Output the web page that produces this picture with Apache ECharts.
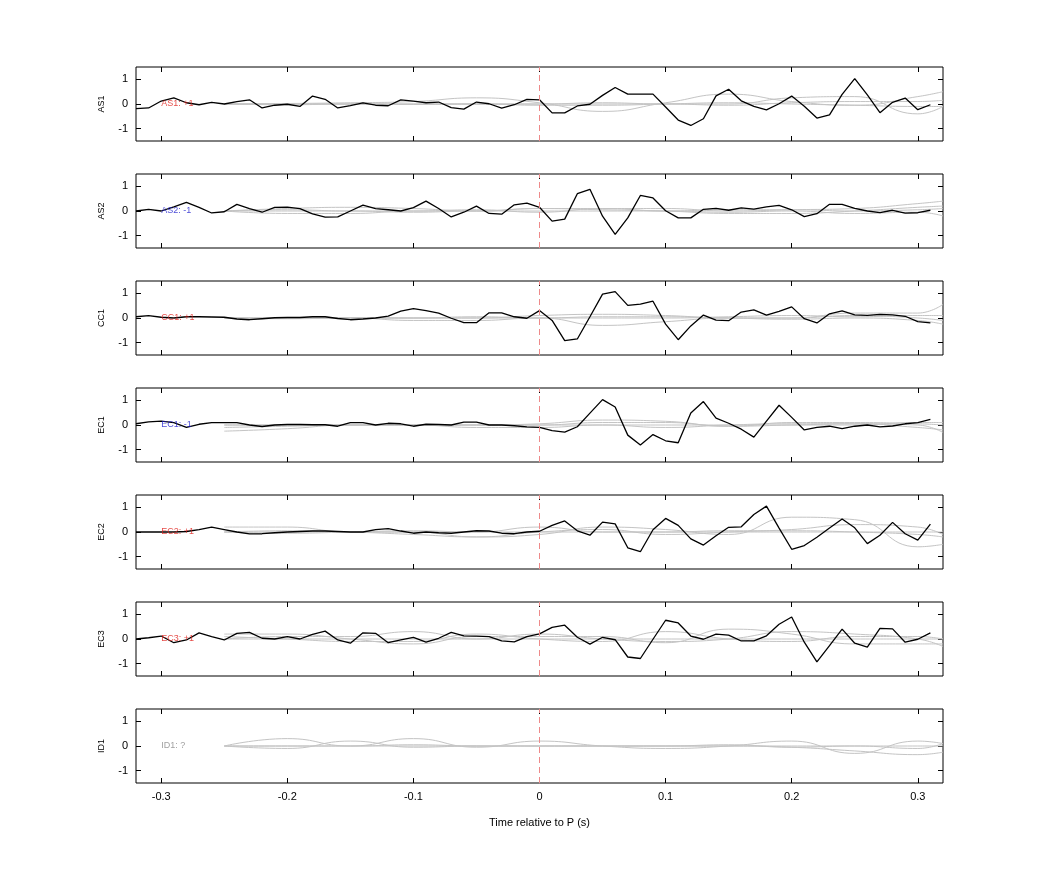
<!DOCTYPE html>
<html><head><meta charset="utf-8">
<script src="https://cdn.jsdelivr.net/npm/echarts@6/dist/echarts.min.js"></script>
<style>html,body{margin:0;padding:0;background:#fff}#c{width:1042px;height:875px}</style>
</head><body><div id="c"></div>
<script>
const stations = ['AS1','AS2','CC1','EC1','EC2','EC3','ID1'];
const polarity = ['+1','-1','+1','-1','+1','+1','?'];
const xTicks = [-0.3,-0.2,-0.1,0,0.1,0.2,0.3];
const yTicks = [-1,0,1];
const blackStart = -0.32, blackStep = 0.01;
const black_AS1 = [-0.19,-0.16,0.12,0.25,0.05,-0.03,0.07,0,0.1,0.17,-0.16,-0.05,-0.01,-0.1,0.32,0.19,-0.16,-0.07,0.05,-0.05,-0.07,0.17,0.12,0.05,0.08,-0.15,-0.21,0.08,0.01,-0.17,-0.03,0.19,0.17,
 -0.36,-0.36,-0.08,-0.01,0.35,0.67,0.4,0.4,0.4,-0.12,-0.65,-0.87,-0.6,0.33,0.6,0.13,-0.1,-0.24,0.01,0.32,-0.09,-0.57,-0.44,0.39,1.03,0.37,-0.35,0.07,0.24,-0.23,-0.03];
const black_AS2 = [0,0.07,0,0.17,0.35,0.15,-0.08,-0.03,0.27,0.1,-0.05,0.15,0.16,0.1,-0.12,-0.25,-0.24,0,0.24,0.1,0.05,0,0.14,0.4,0.1,-0.24,-0.05,0.2,-0.1,-0.13,0.25,0.32,0.15,
 -0.41,-0.33,0.7,0.88,-0.21,-0.95,-0.28,0.63,0.53,0.01,-0.28,-0.28,0.07,0.11,0.03,0.13,0.08,0.17,0.23,0.05,-0.23,-0.11,0.27,0.27,0.11,0,-0.07,0.03,-0.09,-0.07,0.03];
const black_CC1 = [0.05,0.1,0.03,0,0.05,0.05,0.04,0.03,-0.04,-0.07,-0.03,0.01,0.02,0.02,0.05,0.05,-0.02,-0.07,-0.04,0,0.08,0.28,0.38,0.3,0.2,-0.01,-0.19,-0.19,0.21,0.21,0.05,-0.01,0.3,
 -0.1,-0.92,-0.85,0.05,0.97,1.07,0.51,0.56,0.68,-0.25,-0.88,-0.32,0.12,-0.09,-0.11,0.24,0.33,0.12,0.27,0.45,-0.03,-0.2,0.17,0.29,0.13,0.11,0.15,0.13,0.07,-0.15,-0.2];
const black_EC1 = [0.05,0.13,0.16,0.1,-0.1,0.03,0.1,0.1,0.1,0,-0.06,0,0.02,0.02,0.01,0.01,-0.05,0.1,0.1,0,0.07,0.05,-0.05,0.03,0.02,0,0.12,0.12,0,0,-0.03,-0.08,-0.1,
 -0.23,-0.29,-0.07,0.48,1.03,0.73,-0.41,-0.81,-0.39,-0.64,-0.72,0.49,0.95,0.28,0.07,-0.17,-0.49,0.16,0.8,0.31,-0.2,-0.1,-0.05,-0.15,-0.05,0,-0.08,-0.04,0.05,0.1,0.23];
const black_EC2 = [0,0,0,0,0.02,0.1,0.2,0.1,0,-0.08,-0.07,-0.03,0,0.02,0.04,0.04,0.02,0,0,0.1,0.14,0.04,-0.05,0,-0.03,-0.05,0,0.05,0.04,-0.05,-0.07,0,0.03,
 0.27,0.45,0.05,-0.13,0.4,0.33,-0.64,-0.8,0.09,0.55,0.27,-0.28,-0.53,-0.15,0.19,0.21,0.71,1.05,0.16,-0.7,-0.55,-0.21,0.16,0.53,0.17,-0.47,-0.13,0.39,-0.07,-0.33,0.32];
const black_EC3 = [0,0.05,0.12,-0.15,-0.04,0.25,0.1,-0.04,0.23,0.27,0.03,0,0.1,0,0.19,0.32,-0.04,-0.17,0.25,0.23,-0.15,-0.04,0.07,-0.13,0.03,0.27,0.13,0.12,0.1,-0.08,-0.12,0.1,0.21,
 0.47,0.56,0.07,-0.21,0.07,-0.03,-0.73,-0.79,-0.01,0.76,0.65,0.12,-0.01,0.2,0.16,-0.08,-0.08,0.13,0.6,0.89,-0.13,-0.93,-0.27,0.4,-0.17,-0.33,0.43,0.41,-0.13,-0.01,0.25];
const blackSeries = [black_AS1,black_AS2,black_CC1,black_EC1,black_EC2,black_EC3,null];
const greyX = [-0.25,-0.2,-0.15,-0.1,-0.05,0,0.05,0.1,0.15,0.2,0.25,0.3,0.32];
const grey_AS1 = [[0,0.02,0.05,0.1,0.25,0.05,-0.3,0.05,0.4,0.1,-0.05,0.3,0.5],[0,0,0,0,0,0,0.05,0,0,0.25,0.3,-0.4,-0.1],[0,0,0,0,0,0,0,0,-0.05,0.05,0.1,0.1,0.15],[0,-0.03,0,-0.02,0,-0.05,-0.05,0,0.05,0,-0.05,-0.1,-0.1]];
const grey_AS2 = [[0,0.1,0.15,0.1,0,0.1,0.1,0.1,0,0.05,0.1,0.3,0.4],[0,-0.1,-0.1,0,0,0.1,0.05,0,-0.1,-0.1,0,0.15,0.2],[0,0,0,-0.05,0,0,0,0,-0.05,0,-0.1,-0.05,-0.2],[0,0.05,0,0,0.05,-0.05,0.1,0,0.05,0.05,0,0.05,0.1]];
const grey_CC1 = [[0,0,0,0,0,0.1,0.15,0.1,0,0,0.2,0.2,0.55],[0,0,0,-0.1,-0.1,0,-0.3,-0.15,0,0,0.1,0,-0.1],[0,-0.03,0,0,0.05,0,0.05,0.05,0,-0.05,0,-0.1,-0.25],[0,0,0.02,0,0,0,0,0,0.05,0.1,0.05,0.1,0.1]];
const grey_EC1 = [[-0.25,-0.15,0,0,0,0.05,0.2,0.15,-0.05,0,0.05,0,-0.3],[-0.1,-0.05,0,0,0,0,0.1,0.1,-0.05,0.1,0.1,0.05,0],[0,0,0,0,-0.1,-0.1,0,-0.1,0,0.05,0.05,-0.1,-0.2],[0,0,0,0,0,0,0,0,0,0,0,0.1,0.1]];
const grey_EC2 = [[0.2,0.2,0,0,-0.2,-0.1,0.2,0.1,-0.1,0.6,0.5,-0.6,-0.5],[0,0.05,0,-0.1,-0.2,0,0.1,-0.1,0,0.1,0.3,0.2,-0.1],[0,-0.05,0,0.05,0,0.2,0,0,0.05,0.05,0,-0.1,-0.2],[0,0,0,0,0,0,0,0,0,0,0,0,0]];
const grey_EC3 = [[0.2,0.2,0,-0.2,0.1,0.1,0.1,-0.15,0.4,0.2,-0.2,-0.2,-0.2],[0,0.1,0.1,0.3,0,0.2,0,-0.1,0,0.3,0.2,0,-0.3],[0.1,0,-0.1,-0.1,0.2,0,-0.1,0.3,0,-0.1,0.1,0.1,0],[0,0,0,0,0,0,0,0,0,0,0,0,0]];
const grey_ID1 = [[0,0.3,0,0.3,-0.05,0.2,0,-0.1,0,0.2,-0.3,0.2,0.1],[0,-0.1,0.2,-0.05,0,0,0,0,0.05,-0.05,0,-0.1,0.1],[0,0,0,0.05,0,0,0,0,0,-0.05,-0.2,-0.35,-0.25],[0,0,0,0,0,0,0,0,0,0,0,0,0]];
const greySeries = [grey_AS1,grey_AS2,grey_CC1,grey_EC1,grey_EC2,grey_EC3,grey_ID1];

const polColor = p => p==='+1' ? '#e0201b' : (p==='-1' ? '#1a1acc' : '#888');
const FONT = 'Liberation Sans';
const grid=[], xAxis=[], yAxis=[], series=[];
stations.forEach((st,i)=>{
  const top = 67 + 107*i;
  grid.push({left:136, width:807, top:top, height:74, show:true, borderColor:'#000', borderWidth:1, backgroundColor:'#fff'});
  const last = i===stations.length-1;
  const xa = {gridIndex:i, type:'value', min:-0.32, max:0.32, splitLine:{show:false},
    axisLine:{show:false, onZero:false}, axisTick:{show:true, inside:true, length:5, lineStyle:{color:'#000'}, customValues:xTicks},
    axisLabel:{show:last, customValues:xTicks, color:'#000', fontFamily:FONT, fontSize:11, margin:8, formatter:v=>String(Math.round(v*10)/10)}};
  xAxis.push(Object.assign({position:'bottom'}, xa, last?{name:'Time relative to P (s)', nameLocation:'middle', nameGap:34, nameTextStyle:{color:'#000', fontFamily:FONT, fontSize:11}}:{}));
  xAxis.push(Object.assign({}, xa, {position:'top', axisLabel:{show:false}}));
  const ya = {gridIndex:i, type:'value', min:-1.5, max:1.5, splitLine:{show:false}, axisLine:{show:false, onZero:false},
    axisTick:{show:true, inside:true, length:5, lineStyle:{color:'#000'}, customValues:yTicks}};
  yAxis.push(Object.assign({position:'left', name:st, nameLocation:'middle', nameGap:30, nameRotate:90,
    nameTextStyle:{color:'#000', fontFamily:FONT, fontSize:9},
    axisLabel:{customValues:yTicks, color:'#000', fontFamily:FONT, fontSize:11, margin:8}}, ya));
  yAxis.push(Object.assign({position:'right', axisLabel:{show:false}}, ya));
  greySeries[i].forEach(g=>{
    series.push({type:'line', xAxisIndex:2*i, yAxisIndex:2*i, smooth:0.5, symbol:'none', silent:true,
      lineStyle:{color:'#c4c4c4', width:1}, data:greyX.map((x,k)=>[x,g[k]])});
  });
  series.push({type:'line', xAxisIndex:2*i, yAxisIndex:2*i, data:[], symbol:'none',
    markLine:{silent:true, symbol:'none', label:{show:false}, lineStyle:{color:'#ee8a8a', type:[6,4], width:1}, data:[{xAxis:0}]}});
  const b = blackSeries[i];
  if(b){
    series.push({type:'line', xAxisIndex:2*i, yAxisIndex:2*i, symbol:'none', silent:true,
      lineStyle:{color:'#000', width:1.3}, data:b.map((v,k)=>[+(blackStart+k*blackStep).toFixed(2), v])});
  }
  series.push({type:'scatter', xAxisIndex:2*i, yAxisIndex:2*i, symbolSize:0, silent:true, z:10,
    data:[[-0.3,0]], label:{show:true, position:'right', distance:0, formatter:st+': '+polarity[i], color:polColor(polarity[i]), fontFamily:FONT, fontSize:9}});
});
const chart = echarts.init(document.getElementById('c'));
chart.setOption({animation:false, backgroundColor:'#fff', grid, xAxis, yAxis, series});
</script></body></html>
